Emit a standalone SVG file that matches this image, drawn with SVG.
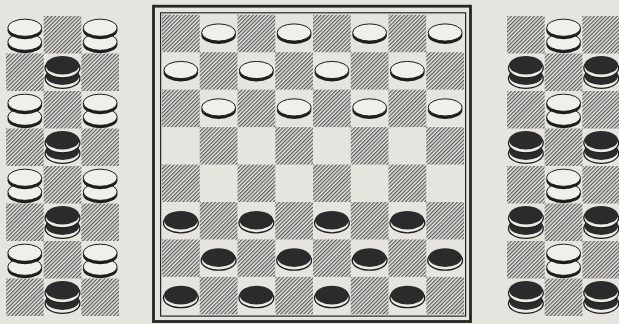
<svg xmlns="http://www.w3.org/2000/svg" xmlns:xlink="http://www.w3.org/1999/xlink" width="619" height="324" viewBox="0 0 619 324">
<style>
.frame{fill:none;stroke:#262626}
.hs{fill:url(#hatch)}
</style>
<defs>
<pattern id="hatch" patternUnits="userSpaceOnUse" width="2.7" height="10" patternTransform="rotate(45)">
<rect x="0" y="0" width="1.15" height="10" fill="#555"/>
</pattern>
<rect id="hm" class="hs" width="37.75" height="37.45"/>
<rect id="hp" class="hs" width="37.7" height="37.5"/>
<g id="wdisc"><ellipse cy="2.5" rx="17.3" ry="9" fill="#1d1d1d"/><ellipse rx="17" ry="8.6" fill="#f1efea" stroke="#1d1d1d" stroke-width="1"/></g>
<g id="bdisc"><ellipse cy="2.8" rx="17.4" ry="9.8" fill="#ecebe6" stroke="#1d1d1d" stroke-width="1.3"/><ellipse rx="16.8" ry="9.3" fill="#2b2b2b"/></g>
<g id="wstack"><use xlink:href="#wdisc" y="7"/><use xlink:href="#wdisc" y="-7"/></g>
<g id="bstack"><use xlink:href="#bdisc" y="3.5"/><use xlink:href="#bdisc" y="-7"/></g>
</defs>
<rect width="619" height="324" fill="#e6e4de"/>

<g id="left-panel">
<use xlink:href="#hp" x="43.67" y="16"/>
<use xlink:href="#hp" x="6" y="53.5"/><use xlink:href="#hp" x="81.33" y="53.5"/>
<use xlink:href="#hp" x="43.67" y="91"/>
<use xlink:href="#hp" x="6" y="128.5"/><use xlink:href="#hp" x="81.33" y="128.5"/>
<use xlink:href="#hp" x="43.67" y="166"/>
<use xlink:href="#hp" x="6" y="203.5"/><use xlink:href="#hp" x="81.33" y="203.5"/>
<use xlink:href="#hp" x="43.67" y="241"/>
<use xlink:href="#hp" x="6" y="278.5"/><use xlink:href="#hp" x="81.33" y="278.5"/>
<use xlink:href="#wstack" x="24.83" y="34.75"/><use xlink:href="#wstack" x="100.17" y="34.75"/>
<use xlink:href="#bstack" x="62.5" y="72.25"/>
<use xlink:href="#wstack" x="24.83" y="109.75"/><use xlink:href="#wstack" x="100.17" y="109.75"/>
<use xlink:href="#bstack" x="62.5" y="147.25"/>
<use xlink:href="#wstack" x="24.83" y="184.75"/><use xlink:href="#wstack" x="100.17" y="184.75"/>
<use xlink:href="#bstack" x="62.5" y="222.25"/>
<use xlink:href="#wstack" x="24.83" y="259.75"/><use xlink:href="#wstack" x="100.17" y="259.75"/>
<use xlink:href="#bstack" x="62.5" y="297.25"/>
</g>

<g id="right-panel">
<use xlink:href="#hp" x="507" y="16"/><use xlink:href="#hp" x="582.4" y="16"/>
<use xlink:href="#hp" x="544.7" y="53.5"/>
<use xlink:href="#hp" x="507" y="91"/><use xlink:href="#hp" x="582.4" y="91"/>
<use xlink:href="#hp" x="544.7" y="128.5"/>
<use xlink:href="#hp" x="507" y="166"/><use xlink:href="#hp" x="582.4" y="166"/>
<use xlink:href="#hp" x="544.7" y="203.5"/>
<use xlink:href="#hp" x="507" y="241"/><use xlink:href="#hp" x="582.4" y="241"/>
<use xlink:href="#hp" x="544.7" y="278.5"/>
<use xlink:href="#wstack" x="563.55" y="34.75"/>
<use xlink:href="#bstack" x="525.85" y="72.25"/><use xlink:href="#bstack" x="601.25" y="72.25"/>
<use xlink:href="#wstack" x="563.55" y="109.75"/>
<use xlink:href="#bstack" x="525.85" y="147.25"/><use xlink:href="#bstack" x="601.25" y="147.25"/>
<use xlink:href="#wstack" x="563.55" y="184.75"/>
<use xlink:href="#bstack" x="525.85" y="222.25"/><use xlink:href="#bstack" x="601.25" y="222.25"/>
<use xlink:href="#wstack" x="563.55" y="259.75"/>
<use xlink:href="#bstack" x="525.85" y="297.25"/><use xlink:href="#bstack" x="601.25" y="297.25"/>
</g>

<g id="board">
<rect class="frame" x="153.5" y="6.2" width="317" height="315.3" stroke-width="2.8"/>
<rect class="frame" x="160.6" y="12.8" width="305" height="303.3" stroke-width="1.2"/>
<g id="squares">
<use xlink:href="#hm" x="162" y="14.75"/><use xlink:href="#hm" x="237.5" y="14.75"/><use xlink:href="#hm" x="313" y="14.75"/><use xlink:href="#hm" x="388.5" y="14.75"/>
<use xlink:href="#hm" x="199.75" y="52.2"/><use xlink:href="#hm" x="275.25" y="52.2"/><use xlink:href="#hm" x="350.75" y="52.2"/><use xlink:href="#hm" x="426.25" y="52.2"/>
<use xlink:href="#hm" x="162" y="89.65"/><use xlink:href="#hm" x="237.5" y="89.65"/><use xlink:href="#hm" x="313" y="89.65"/><use xlink:href="#hm" x="388.5" y="89.65"/>
<use xlink:href="#hm" x="199.75" y="127.1"/><use xlink:href="#hm" x="275.25" y="127.1"/><use xlink:href="#hm" x="350.75" y="127.1"/><use xlink:href="#hm" x="426.25" y="127.1"/>
<use xlink:href="#hm" x="162" y="164.55"/><use xlink:href="#hm" x="237.5" y="164.55"/><use xlink:href="#hm" x="313" y="164.55"/><use xlink:href="#hm" x="388.5" y="164.55"/>
<use xlink:href="#hm" x="199.75" y="202"/><use xlink:href="#hm" x="275.25" y="202"/><use xlink:href="#hm" x="350.75" y="202"/><use xlink:href="#hm" x="426.25" y="202"/>
<use xlink:href="#hm" x="162" y="239.45"/><use xlink:href="#hm" x="237.5" y="239.45"/><use xlink:href="#hm" x="313" y="239.45"/><use xlink:href="#hm" x="388.5" y="239.45"/>
<use xlink:href="#hm" x="199.75" y="276.9"/><use xlink:href="#hm" x="275.25" y="276.9"/><use xlink:href="#hm" x="350.75" y="276.9"/><use xlink:href="#hm" x="426.25" y="276.9"/>
</g>
<g id="white-pieces">
<use xlink:href="#wdisc" x="218.625" y="32.5"/><use xlink:href="#wdisc" x="294.125" y="32.5"/><use xlink:href="#wdisc" x="369.625" y="32.5"/><use xlink:href="#wdisc" x="445.125" y="32.5"/>
<use xlink:href="#wdisc" x="180.875" y="70"/><use xlink:href="#wdisc" x="256.375" y="70"/><use xlink:href="#wdisc" x="331.875" y="70"/><use xlink:href="#wdisc" x="407.375" y="70"/>
<use xlink:href="#wdisc" x="218.625" y="107.4"/><use xlink:href="#wdisc" x="294.125" y="107.4"/><use xlink:href="#wdisc" x="369.625" y="107.4"/><use xlink:href="#wdisc" x="445.125" y="107.4"/>
</g>
<g id="black-pieces">
<use xlink:href="#bdisc" x="180.875" y="220.2"/><use xlink:href="#bdisc" x="256.375" y="220.2"/><use xlink:href="#bdisc" x="331.875" y="220.2"/><use xlink:href="#bdisc" x="407.375" y="220.2"/>
<use xlink:href="#bdisc" x="218.625" y="257.6"/><use xlink:href="#bdisc" x="294.125" y="257.6"/><use xlink:href="#bdisc" x="369.625" y="257.6"/><use xlink:href="#bdisc" x="445.125" y="257.6"/>
<use xlink:href="#bdisc" x="180.875" y="295.1"/><use xlink:href="#bdisc" x="256.375" y="295.1"/><use xlink:href="#bdisc" x="331.875" y="295.1"/><use xlink:href="#bdisc" x="407.375" y="295.1"/>
</g>
</g>
</svg>
